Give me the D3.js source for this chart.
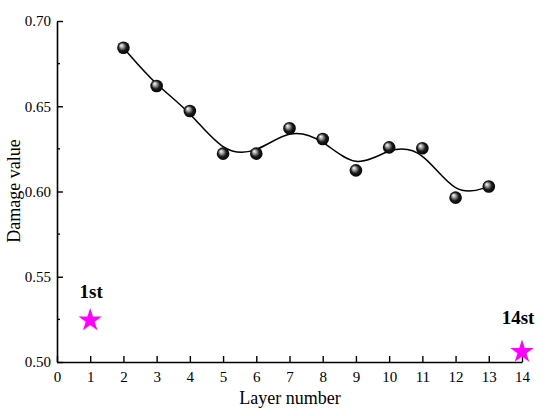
<!DOCTYPE html>
<html><head><meta charset="utf-8">
<script src="https://cdn.jsdelivr.net/npm/d3@7"></script>
<style>body{margin:0;background:#fff}svg{display:block}text{font-family:"Liberation Serif","Times New Roman",serif}</style>
</head><body><svg id="c" width="550" height="416"></svg>
<script>
const layers = [2,3,4,5,6,7,8,9,10,11,12,13];
const damage = [0.6843,0.6619,0.6472,0.6222,0.6222,0.6371,0.6308,0.6124,0.6259,0.6254,0.5964,0.6029];
const specialLayers = [1,14];
const specialDamage = [0.5245,0.5060];
const specialLabels = ["1st","14st"];
const xTicks = d3.range(0,15);
const yTicks = [0.50,0.55,0.60,0.65,0.70];
const yMinor = [0.525,0.575,0.625,0.675];

const svg = d3.select("#c");
const x = d3.scaleLinear().domain([0,14]).range([57,522]);
const y = d3.scaleLinear().domain([0.50,0.70]).range([362,21]);

const defs = svg.append("defs");
const g = defs.append("radialGradient").attr("id","ball").attr("cx","50%").attr("cy","50%").attr("r","55%").attr("fx","32%").attr("fy","30%");
g.append("stop").attr("offset","0%").attr("stop-color","#ffffff");
g.append("stop").attr("offset","28%").attr("stop-color","#a0a0a0");
g.append("stop").attr("offset","60%").attr("stop-color","#1a1a1a");
g.append("stop").attr("offset","100%").attr("stop-color","#000000");

// axes
const yAxis = d3.axisLeft(y).tickValues(yTicks).tickFormat(d3.format(".2f")).tickSizeInner(-6).tickSizeOuter(0).tickPadding(6);
const ya = svg.append("g").attr("transform",`translate(${x(0)},0)`).call(yAxis);
const xAxis = d3.axisBottom(x).tickValues(xTicks).tickFormat(d3.format("d")).tickSizeInner(-6).tickSizeOuter(0).tickPadding(9);
const xa = svg.append("g").attr("transform",`translate(0,${y(0.5)})`).call(xAxis);
[ya,xa].forEach(a=>{
  a.select(".domain").attr("stroke","#000").attr("stroke-width",1.6);
  a.selectAll(".tick line").attr("stroke","#000").attr("stroke-width",1.4);
  a.selectAll(".tick text").attr("fill","#000").style("font-size","15px").style("font-family","Liberation Serif");
});
svg.append("g").selectAll("line").data(yMinor).join("line")
  .attr("x1",x(0)).attr("x2",x(0)+3).attr("y1",d=>y(d)).attr("y2",d=>y(d))
  .attr("stroke","#000").attr("stroke-width",1.4);

// titles
svg.append("text").attr("x",290).attr("y",404).attr("text-anchor","middle").style("font-size","18px").text("Layer number");
svg.append("text").attr("transform","translate(20,191) rotate(-90)").attr("text-anchor","middle").style("font-size","18px").text("Damage value");

// curve
const pts = layers.map((l,i)=>[x(l),y(damage[i])]);
svg.append("path").attr("d",d3.line().curve(d3.curveBasis)(pts)).attr("fill","none").attr("stroke","#000").attr("stroke-width",1.5);

// balls
svg.append("g").selectAll("circle").data(pts).join("circle")
  .attr("cx",d=>d[0]).attr("cy",d=>d[1]).attr("r",6.3).attr("fill","url(#ball)");

// stars
const star = d3.symbol().type(d3.symbolStar).size(170);
svg.append("g").selectAll("path").data(specialLayers).join("path")
  .attr("transform",(d,i)=>`translate(${x(d)},${y(specialDamage[i])})`)
  .attr("d",star).attr("fill","#ff00ff");
svg.append("g").selectAll("text").data(specialLayers).join("text")
  .attr("x",(d,i)=>i===0?x(d)+1:x(d)-4).attr("y",(d,i)=>i===0?298:324)
  .attr("text-anchor","middle").style("font-size","19px").style("font-weight","bold")
  .text((d,i)=>specialLabels[i]);
</script></body></html>
